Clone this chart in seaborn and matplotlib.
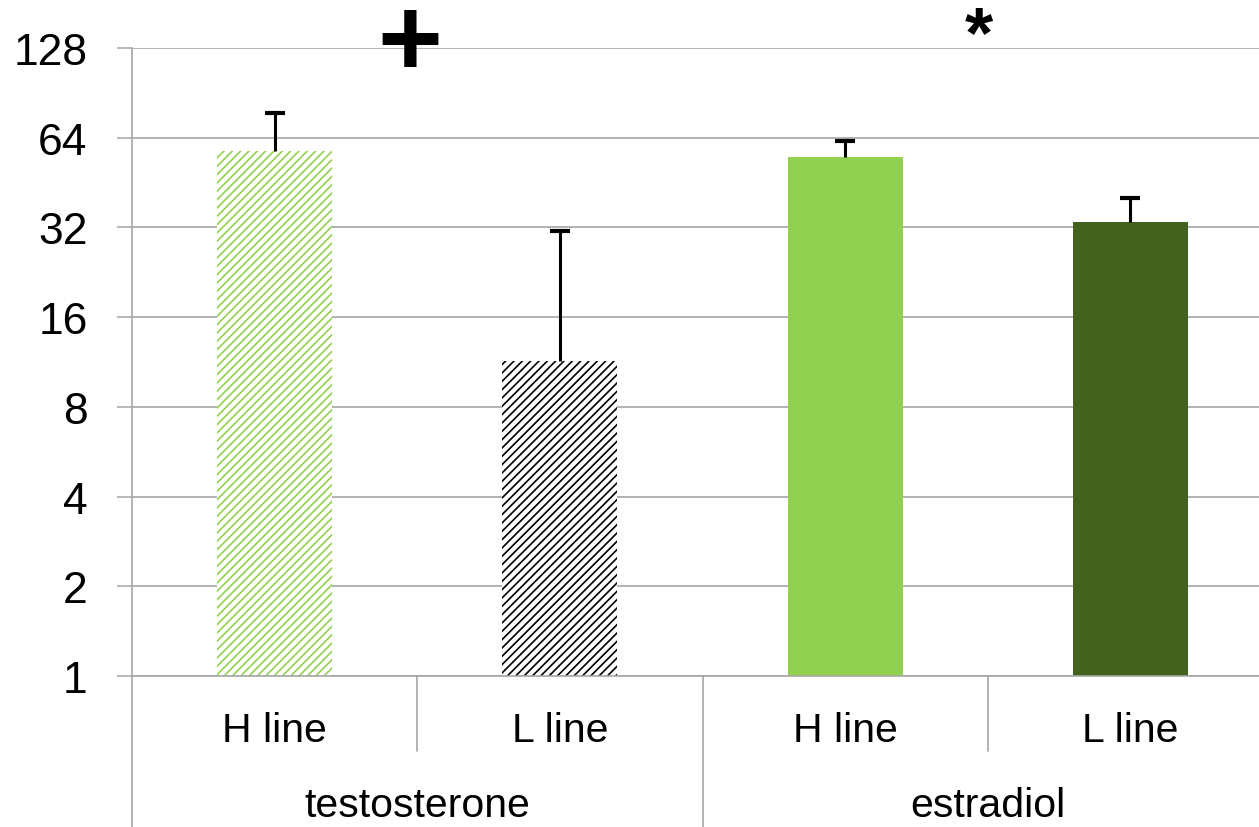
import matplotlib
matplotlib.use("Agg")
import matplotlib.pyplot as plt
import matplotlib.transforms as mtransforms
from matplotlib.ticker import FixedLocator, NullLocator
import numpy as np
import pandas as pd
import seaborn as sns

# ---- data ----
hormones = ["testosterone", "estradiol"]
lines = ["H line", "L line"]
bar_ids = ["testosterone H", "testosterone L", "estradiol H", "estradiol L"]
means = [57.8, 11.4, 55.2, 33.4]
err_tops = [77.5, 31.1, 62.4, 40.2]
y_ticks = [1, 2, 4, 8, 16, 32, 64, 128]
bar_colors = ["#92D050", "#000000", "#92D050", "#43621E"]
hatched = [True, True, False, False]
group_marks = ["+", "*"]

sns.set_theme(style="white")
plt.rcParams["font.family"] = ["Liberation Sans", "DejaVu Sans"]
plt.rcParams["hatch.linewidth"] = 1.2
plt.rcParams["mathtext.fontset"] = "custom"
plt.rcParams["mathtext.bf"] = "Liberation Sans:bold"
plt.rcParams["mathtext.rm"] = "Liberation Sans:bold"

fig = plt.figure(figsize=(12.59, 8.28), dpi=100)
ax = fig.add_axes([132 / 1259, (828 - 677) / 828, 1141 / 1259, (677 - 49) / 828])

df = pd.DataFrame({"bar": bar_ids, "value": means})
sns.barplot(data=df, x="bar", y="value", hue="bar", order=bar_ids, hue_order=bar_ids,
            palette=bar_colors, legend=False, width=0.403, log_scale=2, ax=ax,
            linewidth=0, saturation=1, errorbar=None)

for patch, col, h in zip(ax.patches, bar_colors, hatched):
    if h:
        patch.set_facecolor("white")
        patch.set_edgecolor(col)
        patch.set_hatch("////")
        patch.set_linewidth(0)

x = np.arange(len(bar_ids))
upper = np.array(err_tops) - np.array(means)
_, caps, _ = ax.errorbar(x, means, yerr=[np.zeros_like(upper), upper], fmt="none",
                         ecolor="black", elinewidth=2.2, capsize=7.2, capthick=3, zorder=5)
# keep only the upper caps
for cap in caps:
    if np.allclose(cap.get_ydata(), means):
        cap.remove()

ax.set_yscale("log", base=2)
ax.set_ylim(1, 128)
ax.set_xlim(-0.5, 3.5)
ax.yaxis.set_major_locator(FixedLocator(y_ticks))
ax.yaxis.set_minor_locator(NullLocator())
ax.set_yticklabels([str(t) for t in y_ticks])
ax.tick_params(axis="y", which="major", direction="out", length=11, width=1.1,
               color="#A6A6A6", pad=21, labelsize=32, labelcolor="black", left=True)
ax.tick_params(axis="x", which="both", bottom=False, labelbottom=False)
ax.set_xlabel("")
ax.set_ylabel("")

ax.yaxis.grid(True, color="#A6A6A6", linewidth=1.2)
ax.xaxis.grid(False)
ax.set_axisbelow(True)
for s in ["top", "right"]:
    ax.spines[s].set_visible(False)
for s in ["left", "bottom"]:
    ax.spines[s].set_color("#A6A6A6")
    ax.spines[s].set_linewidth(1.2)

# multi-level category axis
trans = mtransforms.blended_transform_factory(ax.transData, ax.transAxes)
gray = "#A6A6A6"
ax.plot([0, 0], [0, -0.2404], transform=ax.transAxes, color=gray, lw=1.2, clip_on=False)
ax.plot([1.5, 1.5], [0, -0.2404], transform=trans, color=gray, lw=1.2, clip_on=False)
for xs in [0.5, 2.5]:
    ax.plot([xs, xs], [0, -0.1194], transform=trans, color=gray, lw=1.2, clip_on=False)

for i in range(len(bar_ids)):
    ax.text(i, -0.1035, lines[i % 2], transform=trans, ha="center", va="baseline",
            fontsize=29.5, color="black")
for g, name in enumerate(hormones):
    ax.text(2 * g + 0.5, -0.2229, name, transform=trans, ha="center", va="baseline",
            fontsize=29.5, color="black")

# significance marks (mathtext gives a tight box around the glyph)
ax.text(0.467, 1.0065, r"$\mathbf{" + group_marks[0] + "}$", transform=trans,
        ha="center", va="center", fontsize=80, color="black", clip_on=False)
ax.text(2.47, 1.0175, group_marks[1], transform=trans, ha="center", va="center",
        fontsize=52, fontweight="bold", color="black", clip_on=False)

fig.savefig("out.png", dpi=100)
